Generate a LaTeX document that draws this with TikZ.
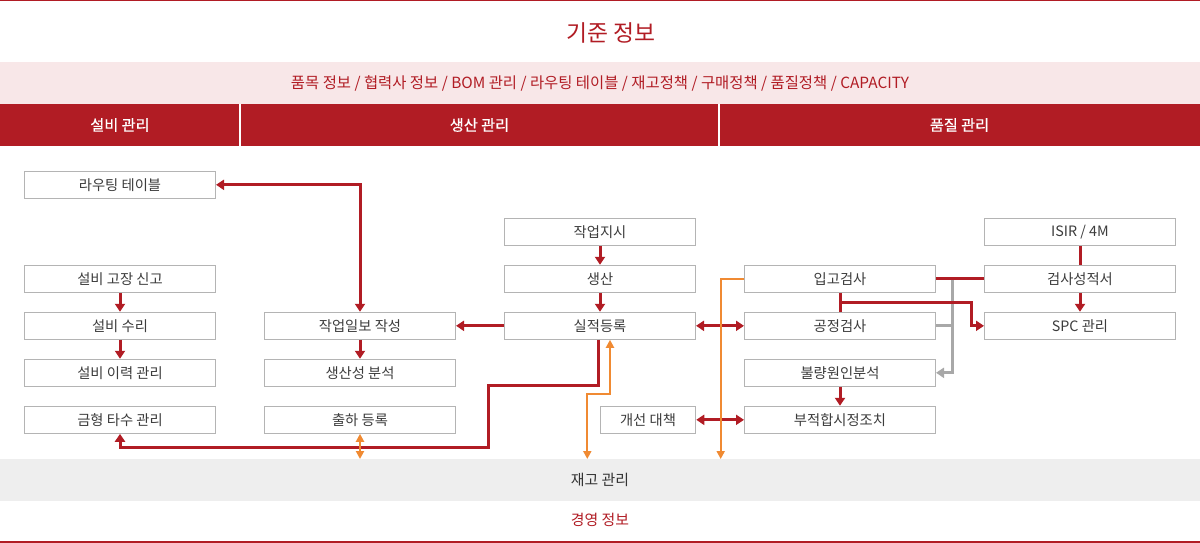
\documentclass[tikz,border=0pt]{standalone}
\usepackage{fontspec}
\setmainfont{Noto Sans CJK KR}
\newfontfamily\medfont[FakeBold=0.6]{Noto Sans CJK KR}
\usetikzlibrary{arrows.meta}
\definecolor{dred}{HTML}{B11C24}
\definecolor{pinkbg}{HTML}{F8E7E8}
\definecolor{boxline}{HTML}{B4B4B4}
\definecolor{txt}{HTML}{3C3C3C}
\definecolor{orng}{HTML}{F08A32}
\definecolor{gline}{HTML}{A8A8A8}
\definecolor{bandgray}{HTML}{EEEEEE}
\begin{document}
\begin{tikzpicture}[x=1pt,y=-1pt,
  box/.style={draw=boxline,line width=1pt,fill=white,minimum width=191pt,minimum height=27pt,inner sep=0pt,text=txt,font=\fontsize{14.3}{16}\selectfont},
  smallbox/.style={box,minimum width=95.5pt},
  redc/.style={draw=dred,line width=3pt},
  grayc/.style={draw=gline,line width=3pt},
  orc/.style={draw=orng,line width=2pt},
  rtip/.tip={Triangle[width=10pt,length=8pt]},
  otip/.tip={Triangle[width=8pt,length=8pt]},
  band/.style={minimum width=1200pt,inner sep=0pt,outer sep=0pt},
  head/.style={text=white,font=\medfont\fontsize{15.2}{17}\selectfont}
]
\useasboundingbox (0,0) rectangle (1200,543);
\fill[white] (0,0) rectangle (1200,543);
% top structure
\draw[dred,line width=1.5pt] (0,0.75) -- (1200,0.75);
\node[text=dred,font=\fontsize{22.8}{26}\selectfont] (title) at (611,33) {기준 정보};
\node[band,fill=pinkbg,minimum height=42pt,text=dred,font=\fontsize{15.4}{18}\selectfont] (pink) at (600,83) {품목 정보 / 협력사 정보 / BOM 관리 / 라우팅 테이블 / 재고정책 / 구매정책 / 품질정책 / CAPACITY};
\fill[dred] (0,104) rectangle (1200,146);
\draw[white,line width=1.5pt] (240,104) -- (240,146);
\draw[white,line width=1.5pt] (719,104) -- (719,146);
\node[head] (h1) at (120,125) {설비 관리};
\node[head] (h2) at (479.5,125) {생산 관리};
\node[head] (h3) at (959.5,125) {품질 관리};
% bottom structure
\node[band,fill=bandgray,minimum height=42pt,text=black!80,font=\fontsize{14.9}{17}\selectfont] (stock) at (600,480) {재고 관리};
\node[text=dred,font=\fontsize{14.9}{17}\selectfont] (mgmt) at (600,520) {경영 정보};
\draw[dred,line width=1.5pt] (0,542.2) -- (1200,542.2);
% boxes
\node[box] (routing) at (120,184.8) {라우팅 테이블};
\node[box] (gojang) at (120,278.8) {설비 고장 신고};
\node[box] (suri) at (120,325.8) {설비 수리};
\node[box] (iryeok) at (120,372.8) {설비 이력 관리};
\node[box] (geum) at (120,419.8) {금형 타수 관리};
\node[box] (ilbo) at (360,325.8) {작업일보 작성};
\node[box] (bunseok) at (360,372.8) {생산성 분석};
\node[box] (chul) at (360,419.8) {출하 등록};
\node[box] (jisi) at (600,231.8) {작업지시};
\node[box] (saeng) at (600,278.8) {생산};
\node[box] (silj) at (600,325.8) {실적등록};
\node[smallbox] (gaeseon) at (648,419.8) {개선 대책};
\node[box] (ipgo) at (840,278.8) {입고검사};
\node[box] (gong) at (840,325.8) {공정검사};
\node[box] (bul) at (840,372.8) {불량원인분석};
\node[box] (bujeok) at (840,419.8) {부적합시정조치};
\node[box] (isir) at (1080,231.8) {ISIR / 4M};
\node[box] (geom) at (1080,278.8) {검사성적서};
\node[box] (spc) at (1080,325.8) {SPC 관리};
% helper coordinates
\coordinate (r1) at (488,385);
\coordinate (r2) at (488,447.3);
\coordinate (o1) at (587.3,394.3);
\coordinate (o2) at (720.7,459);
\coordinate (b1) at (840,302.3);
\coordinate (g1) at (952.3,278.8);
\coordinate (g2) at (952.3,325.8);
% gray connectors
\draw[grayc,-rtip] (g1) |- (bul.east);
\draw[grayc] (gong.east) -- (g2);
% red connectors
\draw[redc,rtip-rtip] (ilbo.north) |- (routing.east);
\draw[redc,-rtip] (gojang) -- (suri);
\draw[redc,-rtip] (suri) -- (iryeok);
\draw[redc,-rtip] (ilbo) -- (bunseok);
\draw[redc,-rtip] (silj) -- (ilbo);
\draw[redc,-rtip] (jisi) -- (saeng);
\draw[redc,-rtip] (saeng) -- (silj);
\draw[redc,-rtip] ([xshift=-2pt]silj.south) |- (r1) -- (r2) -| (geum.south);
\draw[redc,rtip-rtip] (silj) -- (gong);
\draw[redc,rtip-rtip] (gaeseon) -- (bujeok);
\draw[redc,-rtip] (bul) -- (bujeok);
\draw[redc] (ipgo.east) -- (geom.west);
\draw[redc] (ipgo.south) -- (gong.north);
\draw[redc,-rtip] (b1) -| ([xshift=-13pt]spc.west) -- (spc.west);
\draw[redc] (isir) -- (geom);
\draw[redc,-rtip] (geom) -- (spc);
% orange connectors
\draw[orc,otip-otip] (chul.south) -- (chul.south |- stock.north);
\draw[orc,otip-otip] ([xshift=10pt]silj.south) |- (o1) -- (o1 |- stock.north);
\draw[orc,-otip] (ipgo.west) -| (o2);
\end{tikzpicture}
\end{document}
